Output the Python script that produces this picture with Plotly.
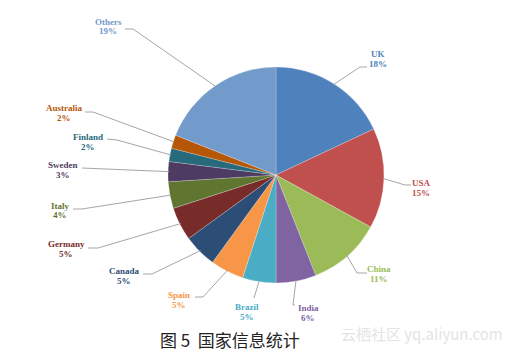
import math
import plotly.graph_objects as go

# ---- data ----
countries = ["UK", "USA", "China", "India", "Brazil", "Spain", "Canada",
             "Germany", "Italy", "Sweden", "Finland", "Australia", "Others"]
shares = [18, 15, 11, 6, 5, 5, 5, 5, 4, 3, 2, 2, 19]
colors = ["#4F81BD", "#C0504D", "#9BBB59", "#8064A2", "#4BACC6", "#F79646",
          "#2C4D75", "#772C2A", "#5F7530", "#4D3B62", "#276A7C", "#B65708",
          "#729ACA"]
caption = "图 5  国家信息统计"
watermark = "云栖社区 yq.aliyun.com"

# ---- layout (pixels) ----
W, H = 513, 353
CX, CY, R = 276, 175, 108
# label centre x, top-line y ; elbow point ; end point near label
label_pos = [(378, 54), (421, 183), (379, 269), (308, 308), (247, 307),
             (179, 295), (124, 271), (66, 244), (60, 206), (63, 165),
             (88, 137), (64, 108), (108, 22)]
elbows = [(360, 67), (405, 185), (357, 273), (293, 305), (254, 298),
          (203, 297), (152, 274), (98, 248), (82, 209), (82, 168),
          (117, 140), (93, 112), (133, 29)]
ends = [(367, 67), (411, 185), (367, 273), (295, 305), (254, 298),
        (195, 297), (143, 274), (88, 248), (73, 209), (82, 168),
        (107, 139), (85, 112), (125, 29)]


def px(x):
    return x / W


def py(y):
    return 1 - y / H


fig = go.Figure(go.Pie(
    labels=countries, values=shares, sort=False, direction="clockwise",
    rotation=0, marker=dict(colors=colors, line=dict(color="rgba(255,255,255,0.45)", width=0.5)),
    textinfo="none", hoverinfo="label+percent", showlegend=False,
    domain=dict(x=[px(CX - R), px(CX + R)], y=[py(CY + R), py(CY - R)]),
))

total = sum(shares)
cum = 0
shapes = []
annotations = []
font_family = "Liberation Serif"
for name, v, col, (lx, ly), (ex, ey), (nx, ny) in zip(
        countries, shares, colors, label_pos, elbows, ends):
    mid = 2 * math.pi * (cum + v / 2) / total
    cum += v
    sx = CX + R * 0.99 * math.sin(mid)
    sy = CY - R * 0.99 * math.cos(mid)
    path = f"M {px(sx)} {py(sy)} L {px(ex)} {py(ey)} L {px(nx)} {py(ny)}"
    shapes.append(dict(type="path", path=path, xref="paper", yref="paper",
                       line=dict(color="#a6a6a6", width=1)))
    pct = f"{round(100 * v / total)}%"
    annotations.append(dict(x=px(lx), y=py(ly), xref="paper", yref="paper",
                            text=f"<b>{name}</b>", showarrow=False,
                            xanchor="center", yanchor="middle",
                            font=dict(family=font_family, size=9, color=col)))
    annotations.append(dict(x=px(lx), y=py(ly + 9.5), xref="paper", yref="paper",
                            text=f"<b>{pct}</b>", showarrow=False,
                            xanchor="center", yanchor="middle",
                            font=dict(family=font_family, size=9, color=col)))

annotations.append(dict(x=px(230), y=py(339), xref="paper", yref="paper",
                        text=caption, showarrow=False, xanchor="center",
                        yanchor="middle",
                        font=dict(family="Noto Sans CJK SC", size=17, color="#222222")))
annotations.append(dict(x=px(422), y=py(333), xref="paper", yref="paper",
                        text=watermark, showarrow=False, xanchor="center",
                        yanchor="middle",
                        font=dict(family="Noto Sans CJK SC", size=15, color="#e4e4e4")))

fig.update_layout(width=W, height=H, margin=dict(l=0, r=0, t=0, b=0),
                  paper_bgcolor="white", plot_bgcolor="white",
                  shapes=shapes, annotations=annotations)
fig.write_html("out.html")
